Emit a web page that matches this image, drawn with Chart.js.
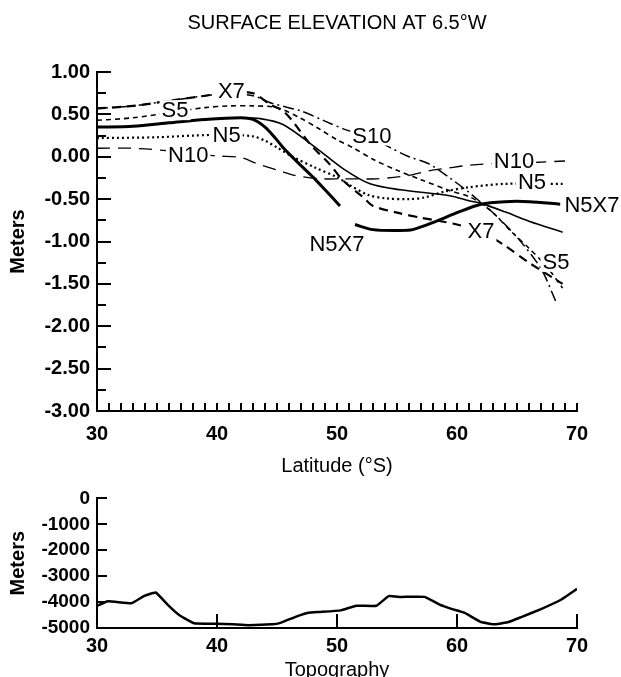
<!DOCTYPE html>
<html>
<head>
<meta charset="utf-8">
<script src="https://cdn.jsdelivr.net/npm/chart.js@4.4.0/dist/chart.umd.min.js"></script>
<style>
  body { margin: 0; background: #fff; }
  #wrap { position: relative; width: 621px; height: 677px; overflow: hidden; }
  canvas { position: absolute; left: 0; }
  #elev { top: 0; }
  #topo { top: 480px; }
</style>
</head>
<body>
<div id="wrap">
  <canvas id="elev" width="621" height="480"></canvas>
  <canvas id="topo" width="621" height="197"></canvas>
</div>
<script>
// Elevación de superficie a 6.5°W (latitud °S, metros)
const n10Lat = [30, 33, 36, 38, 40, 42, 43.3, 45.3, 46.5, 48.6, 50.5, 53.3, 56, 57.5, 59.4, 61, 63, 66, 69];
const n10 = [0.10, 0.10, 0.07, 0.04, 0.01, -0.01, -0.08, -0.17, -0.22, -0.26, -0.26, -0.26, -0.22, -0.17, -0.13, -0.10, -0.08, -0.07, -0.05];

const n5Lat = [30, 35, 38, 41, 43, 44, 45, 46.3, 48.2, 50, 51, 52.6, 54, 56, 57.3, 59, 61, 64, 68.8];
const n5 = [0.22, 0.23, 0.25, 0.26, 0.24, 0.19, 0.11, 0.00, -0.13, -0.24, -0.33, -0.45, -0.49, -0.50, -0.48, -0.41, -0.36, -0.32, -0.32];

const n5x7Lat = [30, 33, 36, 39, 42, 43, 44, 44.8, 45.5, 46.75, 48, 49, 50.25, 51, 51.5, 53, 55, 56.3, 58.3, 60, 62, 64, 66, 68.6];
const n5x7 = [0.35, 0.36, 0.40, 0.44, 0.46, 0.44, 0.35, 0.23, 0.11, -0.07, -0.24, -0.39, -0.58, null, -0.80, -0.86, -0.87, -0.86, -0.76, -0.66, -0.56, -0.53, -0.53, -0.56];

const baseLat = [30, 33, 36, 39, 42, 43.6, 45.5, 48.3, 50.5, 52.75, 55.3, 59.4, 61, 62, 64, 66, 68.8];
const base = [0.35, 0.36, 0.40, 0.44, 0.46, 0.45, 0.38, 0.10, -0.14, -0.32, -0.39, -0.46, -0.52, -0.55, -0.65, -0.76, -0.89];

const x7Lat = [30, 33, 36, 39, 41, 43, 44.4, 45.5, 46.25, 47.75, 49.4, 50.5, 52.2, 53, 55, 57, 59, 60, 62, 64, 66, 68.8];
const x7 = [0.57, 0.60, 0.66, 0.72, 0.76, 0.75, 0.62, 0.54, 0.43, 0.15, -0.09, -0.28, -0.48, -0.58, -0.66, -0.72, -0.77, -0.80, -0.88, -1.05, -1.25, -1.50];

const s5Lat = [30, 33, 36.5, 39, 41, 43, 45, 46.9, 48.5, 50, 51.3, 53, 55, 57, 59.4, 61, 62, 63, 64.5, 66, 67.5, 68.8];
const s5 = [0.43, 0.46, 0.53, 0.58, 0.60, 0.60, 0.58, 0.46, 0.33, 0.20, 0.11, -0.03, -0.16, -0.27, -0.40, -0.47, -0.55, -0.66, -0.88, -1.08, -1.30, -1.55];

const s10Lat = [30, 33, 36, 39, 41, 43, 44.6, 47, 49, 50.7, 52.9, 54.4, 56, 57.6, 59.4, 61, 62, 63, 65, 67, 68.3];
const s10 = [0.57, 0.60, 0.66, 0.72, 0.74, 0.72, 0.63, 0.54, 0.42, 0.32, 0.22, 0.11, 0.00, -0.08, -0.25, -0.42, -0.54, -0.66, -0.95, -1.32, -1.73];

// Topografía
const topoLat = [30, 30.9, 32.9, 33.9, 34.9, 35.9, 36.9, 38.1, 39.9, 41.3, 42.6, 44.6, 45.3, 46.6, 47.6, 48.6, 50.3, 51.6, 53.3, 54.3, 55.3, 57.3, 58.6, 59.6, 60.6, 62.0, 63.2, 64.3, 65.3, 67.0, 68.7, 70.0];
const topo = [-4150, -3970, -4040, -3770, -3630, -4110, -4520, -4820, -4840, -4860, -4890, -4860, -4800, -4560, -4410, -4380, -4320, -4140, -4140, -3770, -3800, -3800, -4110, -4270, -4410, -4770, -4860, -4770, -4590, -4270, -3900, -3490];

// Etiquetas de las curvas
const etiquetas = [
  { text: "X7", lat: 41.2, val: 0.78 },
  { text: "S5", lat: 36.5, val: 0.55 },
  { text: "N5", lat: 40.8, val: 0.26 },
  { text: "N10", lat: 37.6, val: 0.02 },
  { text: "S10", lat: 52.9, val: 0.25 },
  { text: "N10", lat: 64.75, val: -0.05 },
  { text: "N5", lat: 66.25, val: -0.30 },
  { text: "N5X7", lat: 71.25, val: -0.57 },
  { text: "N5X7", lat: 50.0, val: -1.03 },
  { text: "X7", lat: 62.0, val: -0.88 },
  { text: "S5", lat: 68.25, val: -1.24 }
];

const FONT = "'Liberation Sans', Arial, sans-serif";
Chart.defaults.font.family = FONT;
Chart.defaults.color = "#000";

function puntos(lats, vals) {
  return lats.map((x, i) => ({ x: x, y: vals[i] }));
}

function serie(label, lats, vals, width, dash, tension) {
  return {
    label: label,
    data: puntos(lats, vals),
    borderColor: "#000",
    borderWidth: width,
    borderDash: dash,
    pointRadius: 0,
    tension: tension === undefined ? 0.3 : tension,
    fill: false,
    spanGaps: false
  };
}

// marcas de escala hacia dentro
const marcas = {
  id: "marcas",
  afterDraw(chart, args, opts) {
    const { ctx, chartArea: a, scales: { x, y } } = chart;
    ctx.save();
    ctx.strokeStyle = "#000";
    ctx.lineWidth = 2;
    ctx.beginPath();
    opts.xTicks.forEach(([v, len]) => {
      const px = Math.round(x.getPixelForValue(v));
      ctx.moveTo(px, a.bottom);
      ctx.lineTo(px, a.bottom - len);
    });
    opts.yTicks.forEach(([v, len]) => {
      const py = Math.round(y.getPixelForValue(v));
      ctx.moveTo(a.left, py);
      ctx.lineTo(a.left + len, py);
    });
    ctx.stroke();
    ctx.restore();
  }
};

const rotulos = {
  id: "rotulos",
  afterDatasetsDraw(chart, args, opts) {
    if (!opts.items) return;
    const { ctx, scales: { x, y } } = chart;
    ctx.save();
    ctx.font = opts.font;
    ctx.textAlign = "center";
    ctx.textBaseline = "middle";
    opts.items.forEach((it) => {
      const px = x.getPixelForValue(it.lat);
      const py = y.getPixelForValue(it.val);
      const w = ctx.measureText(it.text).width;
      ctx.fillStyle = "#fff";
      ctx.fillRect(px - w / 2 - 2, py - 10, w + 4, 20);
      ctx.fillStyle = "#000";
      ctx.fillText(it.text, px, py + 1);
    });
    ctx.restore();
  }
};

const xTicksTop = [];
for (let v = 31; v <= 70; v++) xTicksTop.push([v, 8]);
const yTicksTop = [];
for (let i = 0; i <= 16; i++) {
  const v = 1 - i * 0.25;
  yTicksTop.push([v, i % 2 === 0 ? 14 : 9]);
}

new Chart(document.getElementById("elev"), {
  type: "line",
  data: {
    datasets: [
      serie("N10", n10Lat, n10, 1.3, [13, 8]),
      serie("N5", n5Lat, n5, 2.2, [2, 3]),
      serie("N5X7", n5x7Lat, n5x7, 3, []),
      serie("", baseLat, base, 1.6, []),
      serie("X7", x7Lat, x7, 2.2, [9, 6]),
      serie("S5", s5Lat, s5, 1.6, [5, 4]),
      serie("S10", s10Lat, s10, 1.5, [11, 4, 2, 4])
    ]
  },
  options: {
    responsive: false,
    animation: false,
    devicePixelRatio: 1,
    layout: { padding: { left: 0, right: 44, top: 0, bottom: 0 } },
    plugins: {
      legend: { display: false },
      tooltip: { enabled: false },
      title: {
        display: true,
        fullSize: false,
        text: "SURFACE ELEVATION AT 6.5°W",
        font: { size: 20, weight: "normal" },
        padding: { top: 11, bottom: 37 }
      },
      marcas: { xTicks: xTicksTop, yTicks: yTicksTop },
      rotulos: { items: etiquetas, font: "22px " + FONT }
    },
    scales: {
      x: {
        type: "linear",
        min: 30,
        max: 70,
        ticks: { stepSize: 10, padding: 11, font: { size: 20, weight: "bold" } },
        grid: { drawOnChartArea: false, drawTicks: false },
        border: { display: true, color: "#000", width: 2 },
        title: { display: true, text: "Latitude (°S)", font: { size: 20 }, padding: { top: 0, bottom: 2 } },
        afterFit(scale) { scale.height = 69; }
      },
      y: {
        min: -3,
        max: 1,
        ticks: { stepSize: 0.5, padding: 7, font: { size: 20, weight: "bold" }, callback: (v) => v.toFixed(2) },
        grid: { drawOnChartArea: false, drawTicks: false },
        border: { display: true, color: "#000", width: 2 },
        title: { display: true, text: "Meters", font: { size: 20, weight: "bold" }, padding: { top: 6, bottom: 0 } },
        afterFit(scale) { scale.width = 97; }
      }
    }
  },
  plugins: [marcas, rotulos]
});

const yTicksTopo = [];
for (let v = 0; v >= -5000; v -= 1000) yTicksTopo.push([v, 10]);

new Chart(document.getElementById("topo"), {
  type: "line",
  data: {
    datasets: [serie("Topography", topoLat, topo, 2.5, [], 0.1)]
  },
  options: {
    responsive: false,
    animation: false,
    devicePixelRatio: 1,
    layout: { padding: { left: 0, right: 44, top: 17, bottom: 0 } },
    plugins: {
      legend: { display: false },
      tooltip: { enabled: false },
      marcas: { xTicks: [[40, 14], [50, 14], [60, 14], [70, 14]], yTicks: yTicksTopo }
    },
    scales: {
      x: {
        type: "linear",
        min: 30,
        max: 70,
        ticks: { stepSize: 10, padding: 6, font: { size: 20, weight: "bold" } },
        grid: { drawOnChartArea: false, drawTicks: false },
        border: { display: true, color: "#000", width: 2 },
        title: { display: true, text: "Topography", font: { size: 20 }, padding: { top: 0, bottom: -5 } },
        afterFit(scale) { scale.height = 49; }
      },
      y: {
        min: -5000,
        max: 0,
        ticks: { stepSize: 1000, padding: 7, font: { size: 19, weight: "bold" }, callback: (v) => String(v) },
        grid: { drawOnChartArea: false, drawTicks: false },
        border: { display: true, color: "#000", width: 2 },
        title: { display: true, text: "Meters", font: { size: 20, weight: "bold" }, padding: { top: 6, bottom: 0 } },
        afterFit(scale) { scale.width = 97; }
      }
    }
  },
  plugins: [marcas]
});
</script>
</body>
</html>
